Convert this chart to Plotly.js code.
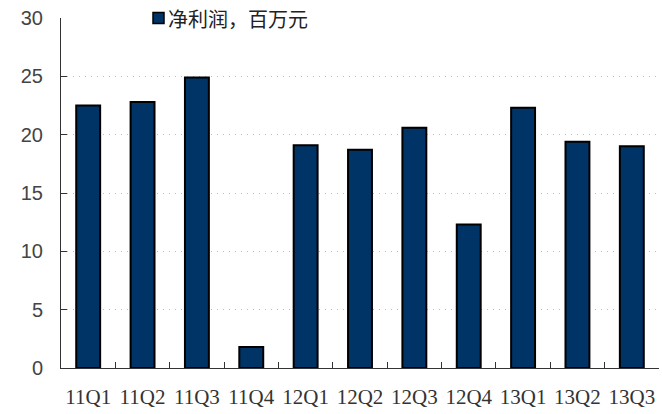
<!DOCTYPE html>
<html>
<head>
<meta charset="utf-8">
<script src="https://cdn.plot.ly/plotly-3.0.1.min.js"></script>
<style>html,body{margin:0;padding:0;background:#fff;}#chart{width:662px;height:414px;}</style>
</head>
<body>
<div id="chart"></div>
<script>
const categories = ["11Q1","11Q2","11Q3","11Q4","12Q1","12Q2","12Q3","12Q4","13Q1","13Q2","13Q3"];
const netProfit = [22.5, 22.8, 24.9, 1.8, 19.1, 18.7, 20.6, 12.3, 22.3, 19.4, 19.0];
const seriesName = "净利润，百万元";
const yTicks = [0, 5, 10, 15, 20, 25, 30];

const barColor = "#003366";

const trace = {
  type: "bar",
  x: categories,
  y: netProfit,
  name: seriesName,
  width: 0.44,
  marker: {color: barColor, line: {color: "#000000", width: 2}},
  showlegend: false
};

// legend key (swatch + real text), placed in paper coordinates
const plotL = 61, plotW = 598, plotT = 18, plotH = 350;
const px = v => (v - plotL) / plotW;
const py = v => 1 - (v - plotT) / plotH;

const layout = {
  width: 662, height: 414,
  margin: {l: plotL, r: 662 - plotL - plotW, t: plotT, b: 414 - plotT - plotH},
  paper_bgcolor: "#ffffff", plot_bgcolor: "#ffffff",
  showlegend: false,
  shapes: [{
    type: "rect", xref: "paper", yref: "paper",
    x0: px(153), x1: px(164), y0: py(23.5), y1: py(12.5),
    fillcolor: barColor, line: {color: "#000", width: 1.5}
  }],
  annotations: [{
    xref: "paper", yref: "paper",
    x: px(166), y: py(18), xanchor: "left", yanchor: "middle",
    text: seriesName, showarrow: false,
    font: {family: "Noto Sans CJK SC, sans-serif", size: 20, color: "#222"}
  }],
  xaxis: {
    type: "category",
    range: [-0.5, 10.5],
    showline: true, linecolor: "#333", linewidth: 1,
    ticks: "inside", ticklen: 6, tickcolor: "#333",
    tickson: "boundaries",
    tickangle: 0,
    showgrid: false, zeroline: false,
    tickfont: {family: "Liberation Serif, serif", size: 21, color: "#333"},
    ticklabelstandoff: 10,
    fixedrange: true
  },
  yaxis: {
    range: [0, 30],
    tickvals: yTicks,
    showline: true, linecolor: "#333", linewidth: 1,
    ticks: "inside", ticklen: 6, tickcolor: "#333",
    showgrid: true, gridcolor: "#bdbdbd", gridwidth: 1, griddash: "1px,5px",
    zeroline: false,
    tickfont: {family: "Liberation Sans, sans-serif", size: 20, color: "#444"},
    ticklabelstandoff: 13,
    fixedrange: true
  }
};

Plotly.newPlot("chart", [trace], layout, {displayModeBar: false, staticPlot: true});
</script>
</body>
</html>
